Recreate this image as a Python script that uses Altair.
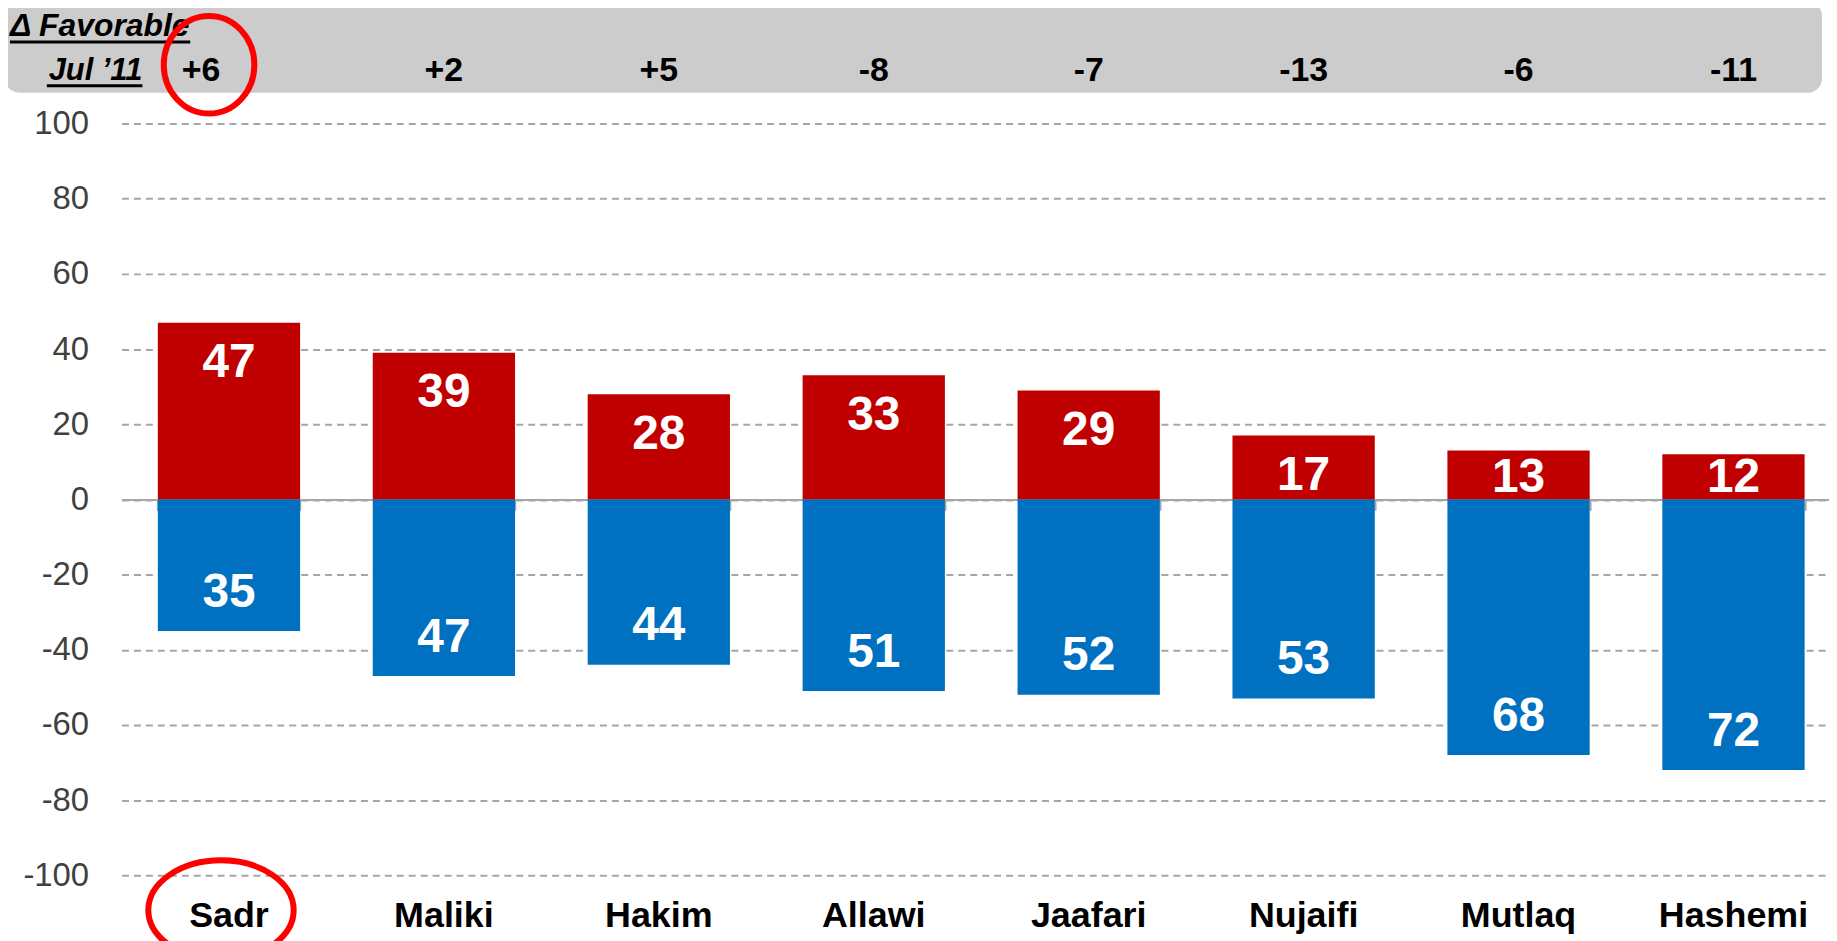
import altair as alt
import pandas as pd

# ---- data ----
names = ["Sadr", "Maliki", "Hakim", "Allawi", "Jaafari", "Nujaifi", "Mutlaq", "Hashemi"]
favorable = [47, 39, 28, 33, 29, 17, 13, 12]
unfavorable = [35, 47, 44, 51, 52, 53, 68, 72]
delta_labels = ["+6", "+2", "+5", "-8", "-7", "-13", "-6", "-11"]
header_title = "\u0394 Favorable"
header_sub = "Jul \u201911"
y_ticks = [-100, -80, -60, -40, -20, 0, 20, 40, 60, 80, 100]

FONT = "Liberation Sans"
W, H = 1715, 755

rows = []
for n, f, u in zip(names, favorable, unfavorable):
    rows.append({"name": n, "series": "Favorable", "pct": f})
    rows.append({"name": n, "series": "Unfavorable", "pct": u})
df_bars = pd.DataFrame(rows)
df_delta = pd.DataFrame({"name": names, "delta": delta_labels})
df_first = df_delta.iloc[:1]
df_rest = df_delta.iloc[1:]
df_names = pd.DataFrame({"name": names})
df_one = pd.DataFrame({"k": [0]})
df_mark = pd.DataFrame({"name": ["Sadr"]})

xscale = alt.Scale(domain=names, range=[0, 1727], paddingInner=0.338, paddingOuter=0.169)
xaxis = alt.Axis(labels=False, title=None, grid=False, domain=True, domainColor="#A6A6A6",
                 domainWidth=2, ticks=True, tickBand="extent", tickColor="#A6A6A6",
                 tickWidth=2, tickSize=11, offset=-H / 2)
yscale = alt.Scale(domain=[-100, 100], nice=False, zero=True)
yaxis = alt.Axis(values=y_ticks, grid=True, gridDash=[7, 5], gridColor="#A6A6A6", gridWidth=2,
                 domain=False, ticks=False, labelFontSize=33, labelColor="#404040",
                 labelFont=FONT, labelPadding=33, title=None,
                 labelExpr="'' + datum.value")

X = alt.X("name:N", sort=names, scale=xscale, axis=xaxis)

bars = alt.Chart(df_bars).transform_calculate(
    signed="datum.series == 'Favorable' ? datum.pct : -datum.pct"
).mark_bar().encode(
    x=X,
    y=alt.Y("signed:Q", scale=yscale, axis=yaxis, stack=None),
    color=alt.Color("series:N", scale=alt.Scale(domain=["Favorable", "Unfavorable"],
                                                range=["#C00000", "#0070C0"]), legend=None),
)

bar_labels = alt.Chart(df_bars).transform_calculate(
    lab="datum.series == 'Favorable' ? max(datum.pct - 10.8, 5.6) : -(datum.pct - 10.2)"
).mark_text(font=FONT, fontSize=48, fontWeight="bold", color="white", baseline="middle").encode(
    x=X,
    y=alt.Y("lab:Q", scale=yscale, axis=yaxis),
    text=alt.Text("pct:Q"),
)

header_rect = alt.Chart(df_one).mark_rect(color="#CCCCCC", cornerRadius=14).encode(
    x=alt.value(-117), x2=alt.value(1708), y=alt.value(-122), y2=alt.value(-31)
)

delta_first = alt.Chart(df_first).mark_text(
    font=FONT, fontSize=34, fontWeight="bold", color="black", baseline="alphabetic", dx=-28
).encode(x=X, y=alt.value(-43), text="delta:N")

delta_rest = alt.Chart(df_rest).mark_text(
    font=FONT, fontSize=34, fontWeight="bold", color="black", baseline="alphabetic"
).encode(x=X, y=alt.value(-43), text="delta:N")

title1 = alt.Chart(df_one).mark_text(
    font=FONT, fontSize=32, fontWeight="bold", fontStyle="italic", color="black",
    align="left", baseline="alphabetic", text=header_title
).encode(x=alt.value(-112), y=alt.value(-88))

title2 = alt.Chart(df_one).mark_text(
    font=FONT, fontSize=31, fontWeight="bold", fontStyle="italic", color="black",
    align="right", baseline="alphabetic", text=header_sub
).encode(x=alt.value(21), y=alt.value(-44))

ul1 = alt.Chart(df_one).mark_rule(color="black", strokeWidth=3).encode(
    x=alt.value(-112), x2=alt.value(69), y=alt.value(-82))
ul2 = alt.Chart(df_one).mark_rule(color="black", strokeWidth=3).encode(
    x=alt.value(-75), x2=alt.value(21), y=alt.value(-38))

cat_labels = alt.Chart(df_names).mark_text(
    font=FONT, fontSize=36, fontWeight="bold", color="black", baseline="alphabetic"
).encode(x=X, y=alt.value(H + 52), text="name:N")


def ellipse_path(cx, rx, ry):
    k = 0.5523
    return (f"M {cx+rx} 0 C {cx+rx} {k*ry} {cx+k*rx} {ry} {cx} {ry} "
            f"C {cx-k*rx} {ry} {cx-rx} {k*ry} {cx-rx} 0 "
            f"C {cx-rx} {-k*ry} {cx-k*rx} {-ry} {cx} {-ry} "
            f"C {cx+k*rx} {-ry} {cx+rx} {-k*ry} {cx+rx} 0 Z")


ring1 = alt.Chart(df_mark).mark_point(
    shape=ellipse_path(-20, 45.5, 49), size=4, filled=False, stroke="#FF0000",
    strokeWidth=6, opacity=1
).encode(x=X, y=alt.value(-59))

ring2 = alt.Chart(df_mark).mark_point(
    shape=ellipse_path(-8, 73, 50), size=4, filled=False, stroke="#FF0000",
    strokeWidth=6, opacity=1
).encode(x=X, y=alt.value(790))

chart = alt.layer(
    header_rect, bars, bar_labels, delta_first, delta_rest, title1, title2, ul1, ul2,
    cat_labels, ring1, ring2
).properties(
    width=W, height=H,
    autosize=alt.AutoSizeParams(type="none"),
    padding={"left": 114, "top": 114, "right": 0, "bottom": 64},
    background="white",
).configure_view(stroke=None)

chart.save("out.html", embed_options={"renderer": "svg", "actions": False})
